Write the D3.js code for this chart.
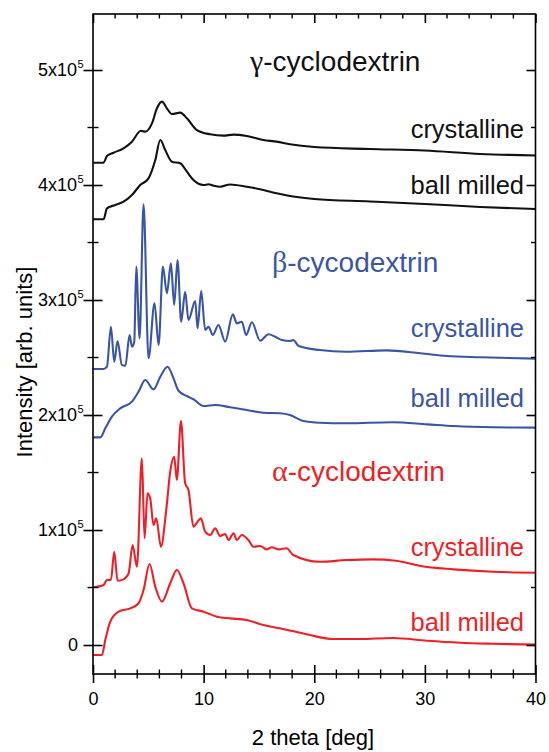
<!DOCTYPE html>
<html>
<head>
<meta charset="utf-8">
<script src="https://cdn.jsdelivr.net/npm/d3@7"></script>
<style>
body { margin: 0; background: #fff; }
text { font-family: "Liberation Sans", Arial, Helvetica, sans-serif; }
</style>
</head>
<body>
<svg id="chart" width="549" height="752"></svg>
<script>
// intensities are in units of 10^5 counts, angles in deg (2 theta)
var gammaCrystTheta = [0, 0.95, 1.26, 1.86, 2.76, 3.52, 4.33, 4.72, 5.33, 5.78, 6.23, 6.68, 7.13, 7.88, 8.49, 9.39, 10.59, 11.79, 12.7, 13.9, 15.4, 16.6, 17.8, 20, 25, 30, 35, 40];
var gammaCrystI = [4.194, 4.194, 4.252, 4.281, 4.319, 4.377, 4.472, 4.464, 4.536, 4.667, 4.725, 4.667, 4.617, 4.629, 4.580, 4.478, 4.441, 4.429, 4.438, 4.426, 4.391, 4.377, 4.354, 4.330, 4.313, 4.300, 4.270, 4.257];

var gammaMillTheta = [0, 0.96, 1.26, 2.01, 2.76, 3.52, 4.27, 5.02, 5.63, 6.08, 6.53, 7.13, 7.88, 8.49, 9.08, 9.99, 10.44, 10.89, 11.5, 12.4, 13.9, 15.4, 16.6, 17.8, 20, 25, 30, 35, 40];
var gammaMillI = [3.702, 3.702, 3.797, 3.826, 3.855, 3.913, 4.0, 4.058, 4.217, 4.391, 4.304, 4.203, 4.189, 4.116, 4.043, 4.0, 4.006, 3.994, 3.985, 4.005, 3.985, 3.957, 3.928, 3.904, 3.878, 3.857, 3.835, 3.809, 3.791];

var betaCrystTheta = [0, 0.96, 1.26, 1.62, 1.92, 2.22, 2.61, 2.92, 3.31, 3.52, 3.73, 3.91, 4.21, 4.57, 5.02, 5.56, 5.93, 6.32, 6.68, 7.04, 7.34, 7.64, 7.97, 8.33, 8.63, 9.24, 9.45, 9.78, 10.14, 10.44, 10.83, 11.34, 11.95, 12.64, 13.0, 13.45, 13.84, 14.36, 15.11, 15.86, 16.46, 17.07, 17.82, 18.1, 18.6, 20.5, 22.9, 26.5, 29.6, 32.0, 35.0, 40];
var betaCrystI = [2.40, 2.40, 2.42, 2.768, 2.463, 2.643, 2.435, 2.429, 2.696, 2.594, 2.638, 3.290, 2.667, 3.832, 2.493, 2.971, 2.609, 3.290, 3.058, 3.319, 2.957, 3.348, 2.811, 3.072, 2.826, 2.991, 2.754, 3.078, 2.739, 2.768, 2.696, 2.783, 2.638, 2.875, 2.797, 2.811, 2.696, 2.806, 2.646, 2.702, 2.681, 2.652, 2.643, 2.652, 2.60, 2.565, 2.55, 2.562, 2.537, 2.513, 2.502, 2.49];

var betaMillTheta = [0, 0.66, 1.11, 1.71, 2.46, 3.52, 4.12, 4.72, 5.47, 6.08, 6.74, 7.28, 7.73, 8.49, 9.08, 9.99, 11.04, 12.4, 13.9, 15.4, 16.9, 17.8, 19.0, 20.5, 22.9, 27.1, 30.2, 32.6, 36.2, 40];
var betaMillI = [1.806, 1.806, 1.884, 1.986, 2.058, 2.116, 2.203, 2.304, 2.223, 2.333, 2.42, 2.319, 2.211, 2.165, 2.137, 2.078, 2.087, 2.067, 2.043, 2.02, 2.015, 2.0, 1.948, 1.933, 1.928, 1.937, 1.919, 1.904, 1.893, 1.890];

var alphaCrystTheta = [0, 0.96, 1.26, 1.62, 1.92, 2.22, 2.76, 3.22, 3.58, 3.97, 4.42, 4.66, 4.93, 5.17, 5.47, 5.72, 6.14, 6.62, 6.98, 7.34, 7.58, 7.95, 8.33, 8.63, 9.08, 9.45, 9.75, 10.14, 10.59, 11.04, 11.5, 11.95, 12.25, 12.7, 13.0, 13.45, 14.05, 14.5, 15.1, 15.7, 16.16, 16.76, 17.5, 18.1, 20.5, 22.9, 25.3, 27.4, 29.6, 32.6, 36.2, 40];
var alphaCrystI = [0.502, 0.522, 0.565, 0.565, 0.811, 0.559, 0.571, 0.623, 0.870, 0.681, 1.623, 0.928, 1.319, 1.275, 1.043, 1.101, 0.855, 1.174, 1.507, 1.637, 1.435, 1.950, 1.406, 1.348, 1.029, 1.072, 1.101, 0.986, 0.957, 1.014, 0.948, 0.965, 0.913, 0.971, 0.913, 0.957, 0.913, 0.855, 0.861, 0.832, 0.850, 0.832, 0.841, 0.783, 0.724, 0.739, 0.745, 0.733, 0.687, 0.658, 0.637, 0.629];

var alphaMillTheta = [0, 0.81, 1.11, 1.56, 2.31, 3.37, 4.12, 4.57, 5.11, 5.63, 6.23, 6.98, 7.58, 8.18, 8.94, 9.99, 11.2, 12.4, 13.9, 15.4, 16.9, 17.8, 19.6, 21.7, 24.1, 27.1, 30.2, 33.2, 36.2, 40];
var alphaMillI = [-0.087, -0.087, 0.043, 0.203, 0.29, 0.319, 0.363, 0.478, 0.704, 0.507, 0.377, 0.537, 0.652, 0.537, 0.319, 0.29, 0.246, 0.232, 0.217, 0.174, 0.145, 0.127, 0.087, 0.052, 0.052, 0.061, 0.037, 0.020, 0.011, 0.003];

var xMajor = [0, 10, 20, 30, 40];
var yMajor = [0, 1, 2, 3, 4, 5];

var chart = (function () {

    var black = "#111111", blue = "#3a55a6", red = "#ee1f26";

    var series = [
        { theta: gammaCrystTheta, I: gammaCrystI, color: black },
        { theta: gammaMillTheta, I: gammaMillI, color: black },
        { theta: betaCrystTheta, I: betaCrystI, color: blue },
        { theta: betaMillTheta, I: betaMillI, color: blue },
        { theta: alphaCrystTheta, I: alphaCrystI, color: red },
        { theta: alphaMillTheta, I: alphaMillI, color: red }
    ];

    var pLeft = 93, pRight = 535.5, pTop = 14, pBottom = 674;
    var svg = d3.select("#chart");

    var x = d3.scaleLinear().domain([0, 40]).range([pLeft, pRight]);
    var y = d3.scaleLinear().domain([-0.252, 5.487]).range([pBottom, pTop]);

    // curves
    var line = d3.line()
        .x(function (d) { return x(d[0]); })
        .y(function (d) { return y(d[1]); })
        .curve(d3.curveMonotoneX);

    svg.append("g").selectAll("path").data(series).enter()
        .append("path")
        .attr("d", function (s) {
            return line(s.theta.map(function (t, i) { return [t, s.I[i]]; }));
        })
        .attr("fill", "none")
        .attr("stroke", function (s) { return s.color; })
        .attr("stroke-width", 2.1)
        .attr("stroke-linejoin", "round");

    // frame
    svg.append("rect")
        .attr("x", pLeft).attr("y", pTop)
        .attr("width", pRight - pLeft).attr("height", pBottom - pTop)
        .attr("fill", "none").attr("stroke", "#000").attr("stroke-width", 1.6);

    var xMinor = d3.range(0, 41, 2).filter(function (d) { return d % 10 !== 0; });
    var yMinor = [0.5, 1.5, 2.5, 3.5, 4.5];

    // bottom axis, ticks cross the axis line
    var gx = svg.append("g").attr("transform", "translate(0," + pBottom + ")")
        .call(d3.axisBottom(x).tickValues(xMajor).tickSize(9).tickPadding(9));
    gx.attr("font-family", null);
    gx.select(".domain").remove();
    gx.selectAll(".tick line").attr("y1", -9).attr("y2", 9).attr("stroke-width", 1.6);
    gx.selectAll(".tick text").attr("font-size", 18).attr("fill", "#000");
    gx.append("g").selectAll("line").data(xMinor).enter().append("line")
        .attr("x1", x).attr("x2", x).attr("y1", -4.5).attr("y2", 4.5)
        .attr("stroke", "#000").attr("stroke-width", 1.4);

    // top axis, inward ticks
    var gt = svg.append("g").attr("transform", "translate(0," + pTop + ")")
        .call(d3.axisBottom(x).tickValues(xMajor).tickSize(9).tickFormat(""));
    gt.select(".domain").remove();
    gt.selectAll(".tick line").attr("stroke-width", 1.6);
    gt.append("g").selectAll("line").data(xMinor).enter().append("line")
        .attr("x1", x).attr("x2", x).attr("y1", 0).attr("y2", 4.5)
        .attr("stroke", "#000").attr("stroke-width", 1.4);

    // left axis
    var gy = svg.append("g").attr("transform", "translate(" + pLeft + ",0)")
        .call(d3.axisLeft(y).tickValues(yMajor).tickSize(9.5).tickFormat(""));
    gy.select(".domain").remove();
    gy.selectAll(".tick line").attr("x1", -9.5).attr("x2", 9.5).attr("stroke-width", 1.6);
    gy.append("g").selectAll("line").data(yMinor).enter().append("line")
        .attr("y1", y).attr("y2", y).attr("x1", -5.5).attr("x2", 5.5)
        .attr("stroke", "#000").attr("stroke-width", 1.4);

    // y tick labels: mantissa then superscript exponent
    var yLab = svg.append("g");
    yLab.selectAll("text.m").data(yMajor).enter()
        .append("text").attr("class", "m")
        .attr("x", function (d) { return d === 0 ? 78 : 77; })
        .attr("y", function (d) { return y(d) + 6; })
        .attr("text-anchor", "end")
        .attr("font-size", 18)
        .text(function (d) { return d === 0 ? "0" : d + "x10"; });
    yLab.selectAll("text.e").data(yMajor.filter(function (d) { return d !== 0; })).enter()
        .append("text").attr("class", "e")
        .attr("x", 77.5)
        .attr("y", function (d) { return y(d) - 2.5; })
        .attr("font-size", 11)
        .text("5");

    // right axis, inward ticks
    var gr = svg.append("g").attr("transform", "translate(" + pRight + ",0)")
        .call(d3.axisLeft(y).tickValues(yMajor).tickSize(9).tickFormat(""));
    gr.select(".domain").remove();
    gr.selectAll(".tick line").attr("stroke-width", 1.6);
    gr.append("g").selectAll("line").data(yMinor).enter().append("line")
        .attr("y1", y).attr("y2", y).attr("x1", -4.5).attr("x2", 0)
        .attr("stroke", "#000").attr("stroke-width", 1.4);

    // axis titles
    svg.append("text")
        .attr("x", 313).attr("y", 745)
        .attr("text-anchor", "middle")
        .attr("font-size", 22)
        .text("2 theta [deg]");
    svg.append("text")
        .attr("transform", "translate(32,362) rotate(-90)")
        .attr("text-anchor", "middle")
        .attr("font-size", 22)
        .text("Intensity [arb. units]");

    // compound names
    var names = [
        { greek: "\u03b3", rest: "-cyclodextrin", x: 250, y: 71, color: black },
        { greek: "\u03b2", rest: "-cycodextrin", x: 272, y: 272, color: blue },
        { greek: "\u03b1", rest: "-cyclodextrin", x: 272, y: 481, color: red }
    ];
    var nm = svg.append("g").selectAll("text").data(names).enter()
        .append("text")
        .attr("x", function (d) { return d.x; })
        .attr("y", function (d) { return d.y; })
        .attr("font-size", 28)
        .attr("fill", function (d) { return d.color; });
    nm.append("tspan").attr("font-family", "'Liberation Serif', 'DejaVu Serif', serif")
        .attr("font-size", 30).text(function (d) { return d.greek; });
    nm.append("tspan").text(function (d) { return d.rest; });

    // sample labels
    var tags = [
        { text: "crystalline", y: 138, color: black },
        { text: "ball milled", y: 194, color: black },
        { text: "crystalline", y: 337, color: blue },
        { text: "ball milled", y: 407, color: blue },
        { text: "crystalline", y: 556, color: red },
        { text: "ball milled", y: 631, color: red }
    ];
    svg.append("g").selectAll("text").data(tags).enter()
        .append("text")
        .attr("x", 524)
        .attr("y", function (d) { return d.y; })
        .attr("text-anchor", "end")
        .attr("font-size", 25.5)
        .attr("fill", function (d) { return d.color; })
        .text(function (d) { return d.text; });

})();
</script>
</body>
</html>
